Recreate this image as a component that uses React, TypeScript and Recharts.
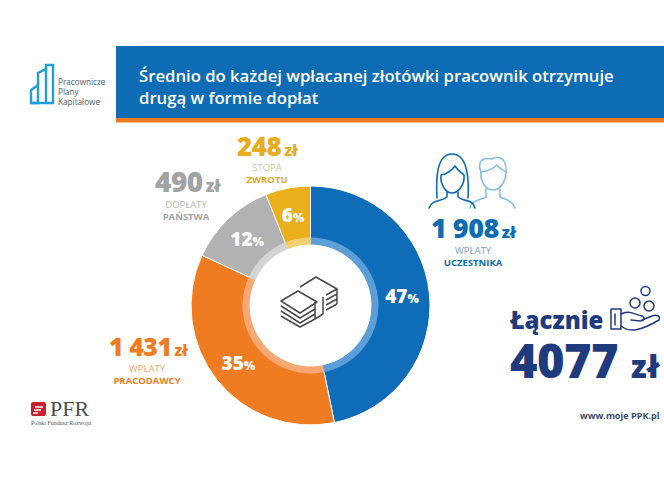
import { PieChart, Pie, Cell } from "recharts";

const W = 664;
const H = 491;
const FONT = "'Open Sans', sans-serif";

const SLICE_NAMES = ["Wpłaty uczestnika", "Wpłaty pracodawcy", "Dopłaty państwa", "Stopa zwrotu"];
const SLICE_VALUES = [1908, 1431, 490, 248];
const SLICE_PCT = ["47", "35", "12", "6"];
const SLICE_COLORS = ["#0e6cb9", "#f07c22", "#b2b2b2", "#e9b01b"];
const RING_COLORS = ["#5c9fd6", "#f5a873", "#d4d4d4", "#f2d071"];

const pieData = SLICE_NAMES.map((name, i) => ({ name, value: SLICE_VALUES[i] }));

const RADIAN = Math.PI / 180;

function pctLabel(props: any) {
  const { cx, cy, midAngle, index } = props;
  const r = 92;
  const x = cx + r * Math.cos(-midAngle * RADIAN);
  const y = cy + r * Math.sin(-midAngle * RADIAN);
  return (
    <text x={x} y={y + 7} textAnchor="middle" fill="#fff" fontFamily={FONT} fontWeight={800} fontSize={19}>
      {SLICE_PCT[index]}
      <tspan fontSize={12}>%</tspan>
    </text>
  );
}

function Amount({ x, y, num, color, size = 26 }: { x: number; y: number; num: string; color: string; size?: number }) {
  return (
    <text x={x} y={y} fill={color} fontFamily={FONT} fontWeight={800} fontSize={size} letterSpacing={-0.5}>
      {num}
      <tspan fontSize={size * 0.6} dx={3}>zł</tspan>
    </text>
  );
}

function Caption({ x, y, top, bottom, color, topColor }: { x: number; y: number; top: string; bottom: string; color: string; topColor: string }) {
  return (
    <g textAnchor="middle" fontFamily={FONT} fontSize={9.5}>
      <text x={x} y={y} fill={topColor}>{top}</text>
      <text x={x} y={y + 12} fill={color} fontWeight={700}>{bottom}</text>
    </g>
  );
}

function MoneyIcon() {
  return (
    <g fill="none" stroke="#4a4a4a" strokeWidth={1.5} strokeLinejoin="round">
      <path d="M300 287 L316 277 L337 289 L326 295" />
      <path d="M281 301 L298 291 L317 302 L300 313 Z" />
      <path d="M281 306 L300 318 L315 309" />
      <path d="M281 311 L300 323 L315 314" />
      <path d="M281 316 L300 327 L315 319" />
      <path d="M315 302 V319 L323 314 V297" />
      <path d="M337 289 V304 M326 300 L337 294 M326 305 L337 299 M326 310 L337 304" />
    </g>
  );
}

function PeopleIcon() {
  return (
    <g fill="none" strokeWidth={1.6} strokeLinecap="round" strokeLinejoin="round">
      <g stroke="#86bfe0">
        <path d="M481 172 C477 162 482 157 492 159 C498 155 507 158 506 172" />
        <path d="M481 172 C488 171 494 168 497 165 C499 168 503 170 506 172 C506 182 500 190 493 190 C486 190 480 182 481 172 Z" />
        <path d="M486 189 L486 197 C480 200 472 200 470 208 M500 189 L500 197 C506 200 513 201 515 208" />
      </g>
      <g stroke="#0e6cb9">
        <path d="M437 198 C436 180 436 154 452 154 C468 154 469 180 468 198" />
        <path d="M441 175 C447 174 452 170 455 166 C458 171 461 173 464 175 C465 185 458 193 452 193 C446 193 440 185 441 175 Z" />
        <path d="M447 192 L447 197 C441 202 432 199 429 208 M458 192 L458 197 C464 202 473 199 475 208" />
      </g>
    </g>
  );
}

function HandIcon() {
  return (
    <g fill="none" stroke="#1f3a7d" strokeWidth={1.5} strokeLinecap="round" strokeLinejoin="round">
      <circle cx={645.5} cy={291} r={4.5} />
      <circle cx={635} cy={303} r={5} />
      <circle cx={649} cy={306} r={5} />
      <rect x={611} y={309} width={10} height={20} />
      <path d="M615 314 V325" />
      <path d="M621 314 C628 310 634 314 642 316 C646 318 644 321 640 321 L631 320" />
      <path d="M621 326 C630 333 640 331 659 320 C661 316 656 314 652 316 L642 320" />
    </g>
  );
}

function Logos() {
  return (
    <g>
      <g fill="none" stroke="#1e9fd6" strokeWidth={2.4}>
        <path d="M31 103 L31 90 L38 85 L38 103 Z" />
        <path d="M38 85 L38 73 L46 69 L46 103 L31 103" />
        <path d="M46 69 L46 65 L53 65 L53 103 L46 103" />
      </g>
      <g fontFamily={FONT} fontSize={8.2} fill="#4f5b63">
        <text x={58} y={85}>Pracownicze</text>
        <text x={58} y={95}>Plany</text>
        <text x={58} y={105}>Kapitałowe</text>
      </g>
      <rect x={31} y={402} width={15} height={14} rx={2} fill="#c8202f" />
      <path d="M35 407 H43 M34 410 H41 M33 413 H38" stroke="#fff" strokeWidth={1.3} />
      <text x={50} y={416} fontFamily="'Liberation Serif', serif" fontSize={22} fill="#4a4f55">PFR</text>
      <text x={31} y={425} fontFamily="'Liberation Serif', serif" fontSize={6} fill="#555">Polski Fundusz Rozwoju</text>
    </g>
  );
}

export default function App() {
  return (
    <div style={{ position: "absolute", left: 0, top: 0, width: W, height: H, background: "#fff", overflow: "hidden" }}>
      <PieChart width={W} height={H} margin={{ top: 0, right: 0, bottom: 0, left: 0 }}>
        <rect x={116} y={46} width={548} height={72} fill="#0e6cb5" />
        <rect x={116} y={118} width={548} height={4.5} fill="#f07c22" />
        <text fontFamily={FONT} fontWeight={600} fontSize={16.7} fill="#fff">
          <tspan x={139} y={82}>Średnio do każdej wpłacanej złotówki pracownik otrzymuje</tspan>
          <tspan x={139} y={104}>drugą w formie dopłat</tspan>
        </text>

        <Pie
          data={pieData}
          dataKey="value"
          nameKey="name"
          cx={310.5}
          cy={305.5}
          innerRadius={61}
          outerRadius={119.5}
          startAngle={90}
          endAngle={-270}
          stroke="#fff"
          strokeWidth={1}
          label={pctLabel}
          labelLine={false}
          isAnimationActive={false}
        >
          {pieData.map((d, i) => (
            <Cell key={d.name} fill={SLICE_COLORS[i]} />
          ))}
        </Pie>
        <Pie
          data={pieData}
          dataKey="value"
          nameKey="name"
          cx={310.5}
          cy={305.5}
          innerRadius={61}
          outerRadius={68}
          startAngle={90}
          endAngle={-270}
          stroke="none"
          isAnimationActive={false}
        >
          {pieData.map((d, i) => (
            <Cell key={d.name} fill={RING_COLORS[i]} />
          ))}
        </Pie>

        <MoneyIcon />
        <PeopleIcon />
        <HandIcon />
        <Logos />

        <Amount x={237} y={156} num="248" color="#e6ad1e" />
        <Caption x={267} y={171} top="STOPA" bottom="ZWROTU" color="#e0a92a" topColor="#d9c894" />
        <Amount x={155} y={192} num="490" color="#a3a3a3" size={28} />
        <Caption x={186} y={208} top="DOPŁATY" bottom="PAŃSTWA" color="#a3a3a3" topColor="#b5b5b5" />
        <Amount x={431} y={238} num="1 908" color="#0e6cb0" size={27} />
        <Caption x={473} y={254} top="WPŁATY" bottom="UCZESTNIKA" color="#0e6cb0" topColor="#6f9fc4" />
        <Amount x={109} y={356} num="1 431" color="#f07c22" size={25} />
        <Caption x={147} y={372} top="WPŁATY" bottom="PRACODAWCY" color="#f07c22" topColor="#eda878" />

        <text x={510} y={329} fontFamily={FONT} fontWeight={800} fontSize={24} fill="#1f3a7d">Łącznie</text>
        <text x={510} y={378} fontFamily={FONT} fontWeight={800} fontSize={47} fill="#1f3a7d" letterSpacing={-0.5}>
          4077
        </text>
        <text x={631} y={378} fontFamily={FONT} fontWeight={800} fontSize={31} fill="#1f3a7d">zł</text>
        <text x={580} y={419} fontFamily={FONT} fontWeight={700} fontSize={9.1} fill="#3b4a6b">www.moje PPK.pl</text>
      </PieChart>
    </div>
  );
}
